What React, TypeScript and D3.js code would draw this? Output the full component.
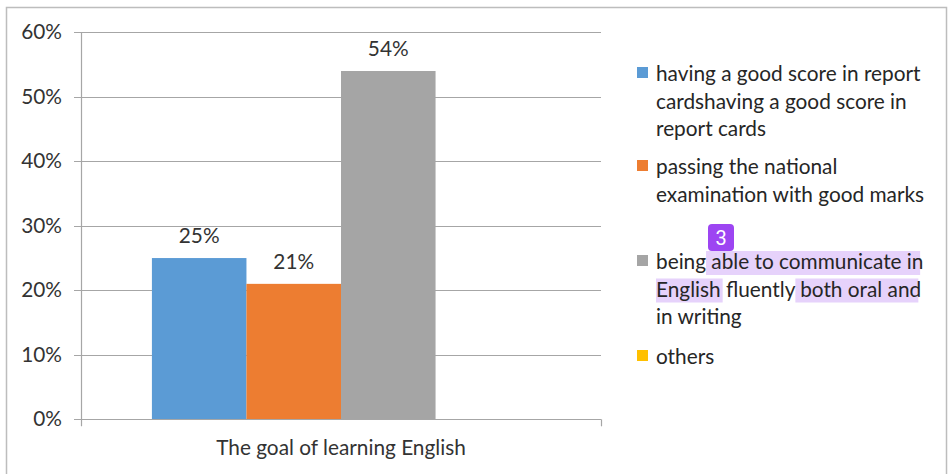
import React, { useEffect, useRef } from "react";
import * as d3 from "d3";

const categories = ["The goal of learning English"];
const seriesNames = [
  "having a good score in report cardshaving a good score in report cards",
  "passing the national examination with good marks",
  "being able to communicate in English fluently both oral and in writing",
  "others",
];
const seriesValues = [0.25, 0.21, 0.54, 0];
const seriesColors = ["#5b9bd5", "#ed7d31", "#a5a5a5", "#ffc000"];
const yTicks = [0, 0.1, 0.2, 0.3, 0.4, 0.5, 0.6];
const legendLines = [
  ["having a good score in report", "cardshaving a good score in", "report cards"],
  ["passing the national", "examination with good marks"],
  ["being able to communicate in", "English fluently both oral and", "in writing"],
  ["others"],
];
// highlighted fragments: [legend item, line, text before, highlighted text]
const highlights: [number, number, string, string][] = [
  [2, 0, "being ", "able to communicate in"],
  [2, 1, "", "English"],
  [2, 1, "English fluently ", "both oral and"],
];

const W = 950;
const H = 474;
const FONT = "Lato, 'Open Sans', sans-serif";
const FS = 20.8;

export default function App() {
  const ref = useRef<SVGSVGElement>(null);
  useEffect(() => {
    const svg = d3.select(ref.current);
    svg.selectAll("*").remove();

    // outer frame
    svg.append("rect").attr("x", 6.5).attr("y", 7.5).attr("width", 940).attr("height", 480)
      .attr("fill", "#fff").attr("stroke", "#bdbdbd").attr("stroke-width", 1.5);

    const left = 81, right = 601, top = 32.3, bottom = 419.3;
    const y = d3.scaleLinear().domain([0, 0.6]).range([bottom, top]);
    const x0 = d3.scaleBand().domain(categories).range([left, right]);
    const band = x0.bandwidth();
    const gap = band * 1.5 / (seriesNames.length + 1.5);
    const x1 = d3.scaleBand().domain(seriesNames)
      .range([gap / 2, band - gap / 2]).paddingInner(0);

    const g = svg.append("g");
    g.selectAll("line.grid").data(yTicks).join("line")
      .attr("x1", left - 7).attr("x2", right)
      .attr("y1", (d) => Math.round(y(d)) + 0.5).attr("y2", (d) => Math.round(y(d)) + 0.5)
      .attr("stroke", "#a6a6a6").attr("stroke-width", 1.2);
    g.append("line").attr("x1", left + 0.5).attr("x2", left + 0.5).attr("y1", top).attr("y2", bottom + 7)
      .attr("stroke", "#a6a6a6").attr("stroke-width", 1.2);
    g.append("line").attr("x1", right + 0.5).attr("x2", right + 0.5).attr("y1", bottom).attr("y2", bottom + 7)
      .attr("stroke", "#a6a6a6").attr("stroke-width", 1.2);

    g.selectAll("text.yt").data(yTicks).join("text")
      .attr("x", 62).attr("y", (d) => y(d) + 7)
      .attr("text-anchor", "end").attr("font-family", FONT).attr("font-size", FS)
      .attr("fill", "#333").text((d) => d3.format(".0%")(d));

    const cat = categories[0];
    const bars = seriesNames.map((s, i) => ({ s, v: seriesValues[i], c: seriesColors[i] }));
    g.selectAll("rect.bar").data(bars).join("rect")
      .attr("x", (d) => x0(cat)! + x1(d.s)!)
      .attr("width", x1.bandwidth())
      .attr("y", (d) => y(d.v))
      .attr("height", (d) => y(0) - y(d.v))
      .attr("fill", (d) => d.c);
    g.selectAll("text.lab").data(bars.filter((d) => d.v > 0)).join("text")
      .attr("x", (d) => x0(cat)! + x1(d.s)! + x1.bandwidth() / 2)
      .attr("y", (d) => y(d.v) - 15)
      .attr("text-anchor", "middle").attr("font-family", FONT).attr("font-size", FS)
      .attr("fill", "#333").text((d) => d3.format(".0%")(d.v));

    g.append("line").attr("x1", left - 7).attr("x2", right).attr("y1", Math.round(y(0)) + 0.5).attr("y2", Math.round(y(0)) + 0.5)
      .attr("stroke", "#a6a6a6").attr("stroke-width", 1.2);

    g.append("text").attr("x", x0(cat)! + band / 2).attr("y", 455)
      .attr("text-anchor", "middle").attr("font-family", FONT).attr("font-size", FS)
      .attr("fill", "#333").text(cat);

    // legend
    const lg = svg.append("g");
    const itemTops = [74, 167, 262, 357];
    const lh = 27.5;
    const tx = 656;
    legendLines.forEach((lines, i) => {
      lg.append("rect").attr("x", 637).attr("y", itemTops[i] - 7).attr("width", 11).attr("height", 11)
        .attr("fill", seriesColors[i]);
      lines.forEach((ln, j) => {
        const yy = itemTops[i] + j * lh + 7;
        highlights.filter((h) => h[0] === i && h[1] === j).forEach((h) => {
          const tmp = lg.append("text").attr("font-family", FONT).attr("font-size", FS).text(h[2]);
          const pre = h[2] ? (tmp.node() as SVGTextElement).getComputedTextLength() : 0;
          tmp.text(h[3]);
          const w = (tmp.node() as SVGTextElement).getComputedTextLength();
          tmp.remove();
          lg.append("rect").attr("x", tx + pre).attr("y", yy - 18).attr("width", w + 2).attr("height", 24)
            .attr("fill", "#e6d2fb");
        });
        lg.append("text").attr("x", tx).attr("y", yy).attr("font-family", FONT).attr("font-size", FS)
          .attr("fill", "#262626").text(ln);
      });
    });
    lg.append("rect").attr("x", 708).attr("y", 224).attr("width", 26).attr("height", 27).attr("rx", 4)
      .attr("fill", "#9d45f2");
    lg.append("text").attr("x", 721).attr("y", 245).attr("text-anchor", "middle")
      .attr("font-family", "Roboto, sans-serif").attr("font-size", 20).attr("fill", "#fff").text("3");
  }, []);
  return (
    <svg ref={ref} width={W} height={H}
      style={{ position: "absolute", left: 0, top: 0, background: "#fff" }} />
  );
}
